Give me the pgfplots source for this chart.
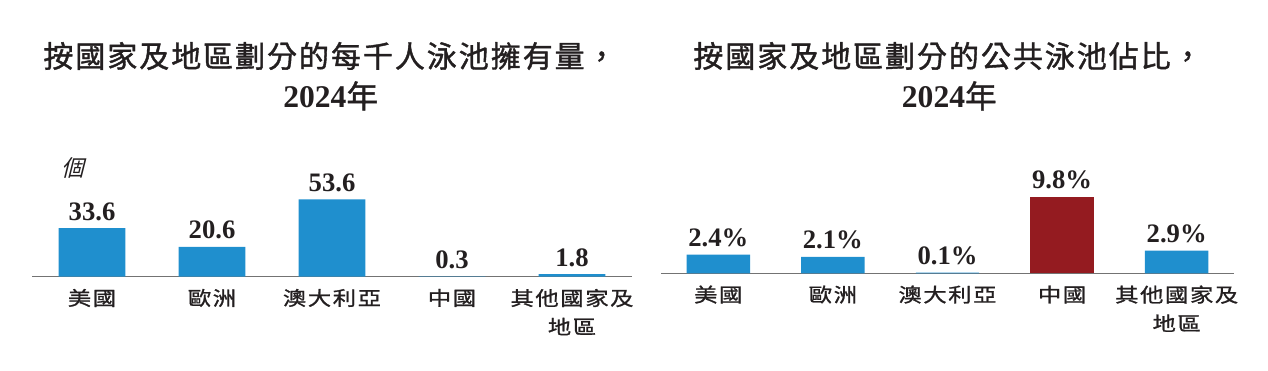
\documentclass[border=0pt]{standalone}
\usepackage{pgfplots}
\pgfplotsset{compat=1.18}
\usepackage{fontspec}
\setmainfont{Liberation Serif}
\newfontfamily\cjktitle[LetterSpace=6.5,FakeBold=1.3]{Noto Sans CJK TC}
\newfontfamily\cjklab[FakeStretch=1.2,LetterSpace=8,FakeBold=1.1]{Noto Sans CJK TC}
\newfontfamily\cjk{Noto Sans CJK TC}
\newfontfamily\cjkmed[FakeBold=1.3]{Noto Sans CJK TC}
\definecolor{barblue}{RGB}{31,143,206}
\definecolor{barred}{RGB}{148,27,32}
\definecolor{txt}{RGB}{35,31,32}
\definecolor{axisgray}{RGB}{115,115,115}
\pgfplotsset{
  mybar/.style={
    scale only axis, anchor=south west,
    xmin=-0.5, xmax=4.5, ymin=0,
    axis x line*=bottom, axis y line=none,
    x axis line style={draw=axisgray, line width=1.1pt, -},
    xtick={0,1,2,3,4},
    major tick length=0pt,
    ytick=\empty,
    ybar, bar shift=0pt,
    clip=false,
    xticklabel style={font=\cjklab\fontsize{14.6pt}{21.5pt}\selectfont, text=txt, align=center, anchor=north, inner sep=0pt, yshift=-9pt},
    nodes near coords,
    point meta=explicit symbolic,
    nodes near coords style={font=\bfseries\fontsize{20pt}{22pt}\selectfont, text=txt, anchor=base, inner sep=0pt, yshift=6pt},
  }
}
\begin{document}
\begin{tikzpicture}
\path[use as bounding box] (0,0) rectangle (951pt,278.25pt);
% left titles
\node[anchor=base, text=txt, font=\cjktitle\fontsize{22.5pt}{26pt}\selectfont] at (247.5pt,227.7pt) {按國家及地區劃分的每千人泳池擁有量，};
\node[anchor=base, text=txt, font=\bfseries\fontsize{23.7pt}{26pt}\selectfont] at (248pt,197.25pt) {2024{\cjkmed\mdseries 年}};
% right titles
\node[anchor=base, text=txt, font=\cjktitle\fontsize{22.5pt}{26pt}\selectfont] at (711pt,227.7pt) {按國家及地區劃分的公共泳池佔比，};
\node[anchor=base, text=txt, font=\bfseries\fontsize{23.7pt}{26pt}\selectfont] at (712pt,197.25pt) {2024{\cjkmed\mdseries 年}};
% unit
\node[anchor=base, text=txt, xslant=0.25, font=\cjk\fontsize{17pt}{20pt}\selectfont] at (54.4pt,145.5pt) {個};

\begin{axis}[mybar,
  at={(24pt,70.725pt)},
  width=450pt, height=64.98pt, ymax=60,
  bar width=49.9pt,
  xticklabels={美國,歐洲,澳大利亞,中國,{其他國家及\\地區}},
]
\addplot[fill=barblue, draw=none] coordinates {(0,33.6)[33.6] (1,20.6)[20.6] (2,53.6)[53.6] (3,0.3)[0.3] (4,1.8)[1.8]};
\end{axis}

\begin{axis}[mybar,
  at={(495.75pt,73.275pt)},
  width=429.75pt, height=58.65pt, ymax=10,
  bar width=47.6pt,
  xticklabels={美國,歐洲,澳大利亞,中國,{其他國家及\\地區}},
]
\addplot[fill=barblue, draw=none] coordinates {(0,2.4)[2.4\%] (1,2.1)[2.1\%] (2,0.1)[0.1\%] (4,2.9)[2.9\%]};
\addplot[fill=barred, draw=none] coordinates {(3,9.8)[9.8\%]};
\end{axis}
\end{tikzpicture}
\end{document}
